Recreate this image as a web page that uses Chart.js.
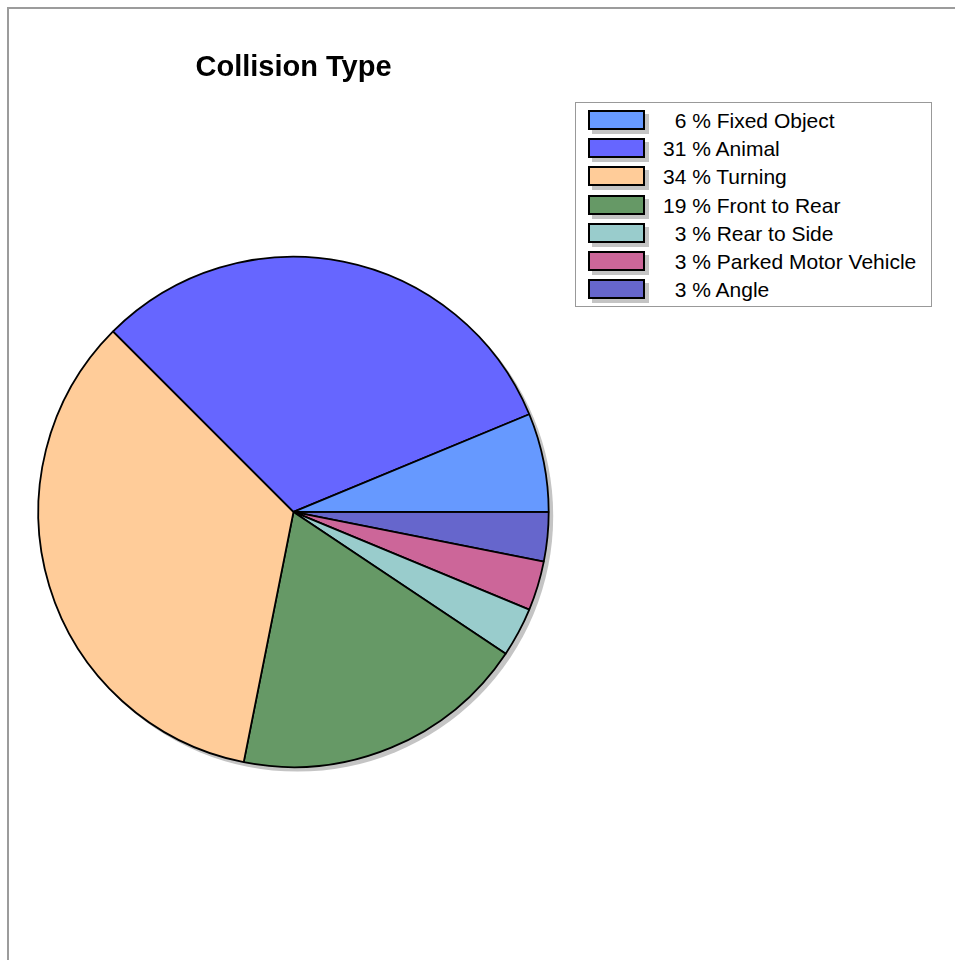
<!DOCTYPE html>
<html>
<head>
<meta charset="utf-8">
<script src="https://cdn.jsdelivr.net/npm/chart.js@4/dist/chart.umd.min.js"></script>
<style>
  body { margin: 0; background: #fff; overflow: hidden; }
  #quadro { position: absolute; left: 7px; top: 7px; width: 948px; height: 953px;
            border-top: 2px solid #9c9c9c; border-left: 2px solid #9c9c9c; }
  #grafico { position: absolute; left: 0; top: 0; }
  #legenda { position: absolute; left: 575px; top: 102px; width: 355px; height: 203px;
             border: 1px solid #999; background: #fff;
             font-family: 'Liberation Sans', Arial, sans-serif; font-size: 21px; color: #000; }
  .linha { position: absolute; left: 12px; height: 20px; line-height: 20px; white-space: pre; }
  .caixa { position: absolute; left: 0; top: -1px; width: 53px; height: 16px;
           border: 2px solid #000; box-shadow: 4px 4px 0 #c4c4c4; }
  .texto { position: absolute; left: 75px; top: 0; }
</style>
</head>
<body>
<div id="quadro"></div>
<canvas id="grafico" width="955" height="960"></canvas>
<div id="legenda"></div>
<script>
// tipos de colisão (ordem da legenda)
var tipos = ['Fixed Object', 'Animal', 'Turning', 'Front to Rear', 'Rear to Side', 'Parked Motor Vehicle', 'Angle'];
var contagens = [2, 10, 11, 6, 1, 1, 1];
var cores = ['#6699FF', '#6666FF', '#FFCC99', '#669966', '#99CCCC', '#CC6699', '#6666CC'];

var total = contagens.reduce(function(a, b) { return a + b; }, 0);
var rotulos = contagens.map(function(c, i) {
    var pct = String(Math.round(c * 100 / total));
    if (pct.length < 2) pct = '  ' + pct;
    return pct + ' % ' + tipos[i];
});

// o gráfico original anda no sentido anti-horário a partir das 3 horas
var dadosInv = contagens.slice().reverse();
var coresInv = cores.slice().reverse();
var tiposInv = tipos.slice().reverse();

// sombra cinza atrás da pizza
var sombraPizza = {
    id: 'sombraPizza',
    beforeDatasetsDraw: function(chart) {
        var arco = chart.getDatasetMeta(0).data[0];
        if (!arco) return;
        var ctx = chart.ctx;
        ctx.save();
        ctx.fillStyle = '#c4c4c4';
        ctx.beginPath();
        ctx.arc(arco.x + 4, arco.y + 4, arco.outerRadius + 0.5, 0, Math.PI * 2);
        ctx.fill();
        ctx.restore();
    }
};

var ctx_colisao = document.getElementById('grafico').getContext('2d');
var myChart_colisao = new Chart(ctx_colisao, {
    type: 'pie',
    data: {
        labels: tiposInv,
        datasets: [{
            data: dadosInv,
            backgroundColor: coresInv,
            borderColor: '#000',
            borderWidth: 1.8
        }]
    },
    options: {
        responsive: false,
        animation: false,
        rotation: 90,
        layout: {
            padding: { left: 37, right: 405, top: 40, bottom: 192 }
        },
        plugins: {
            legend: { display: false },
            tooltip: { enabled: false },
            title: {
                display: true,
                text: 'Collision Type',
                color: '#000',
                font: { family: "'Liberation Sans', Arial, sans-serif", size: 29, weight: 'bold' },
                padding: { top: 11, bottom: 170 }
            }
        }
    },
    plugins: [sombraPizza]
});

// legenda em HTML
var legenda = document.getElementById('legenda');
rotulos.forEach(function(r, i) {
    var linha = document.createElement('div');
    linha.className = 'linha';
    linha.style.top = (8 + i * 28.2) + 'px';
    var caixa = document.createElement('span');
    caixa.className = 'caixa';
    caixa.style.background = cores[i];
    var texto = document.createElement('span');
    texto.className = 'texto';
    texto.textContent = r;
    linha.appendChild(caixa);
    linha.appendChild(texto);
    legenda.appendChild(linha);
});
</script>
</body>
</html>
